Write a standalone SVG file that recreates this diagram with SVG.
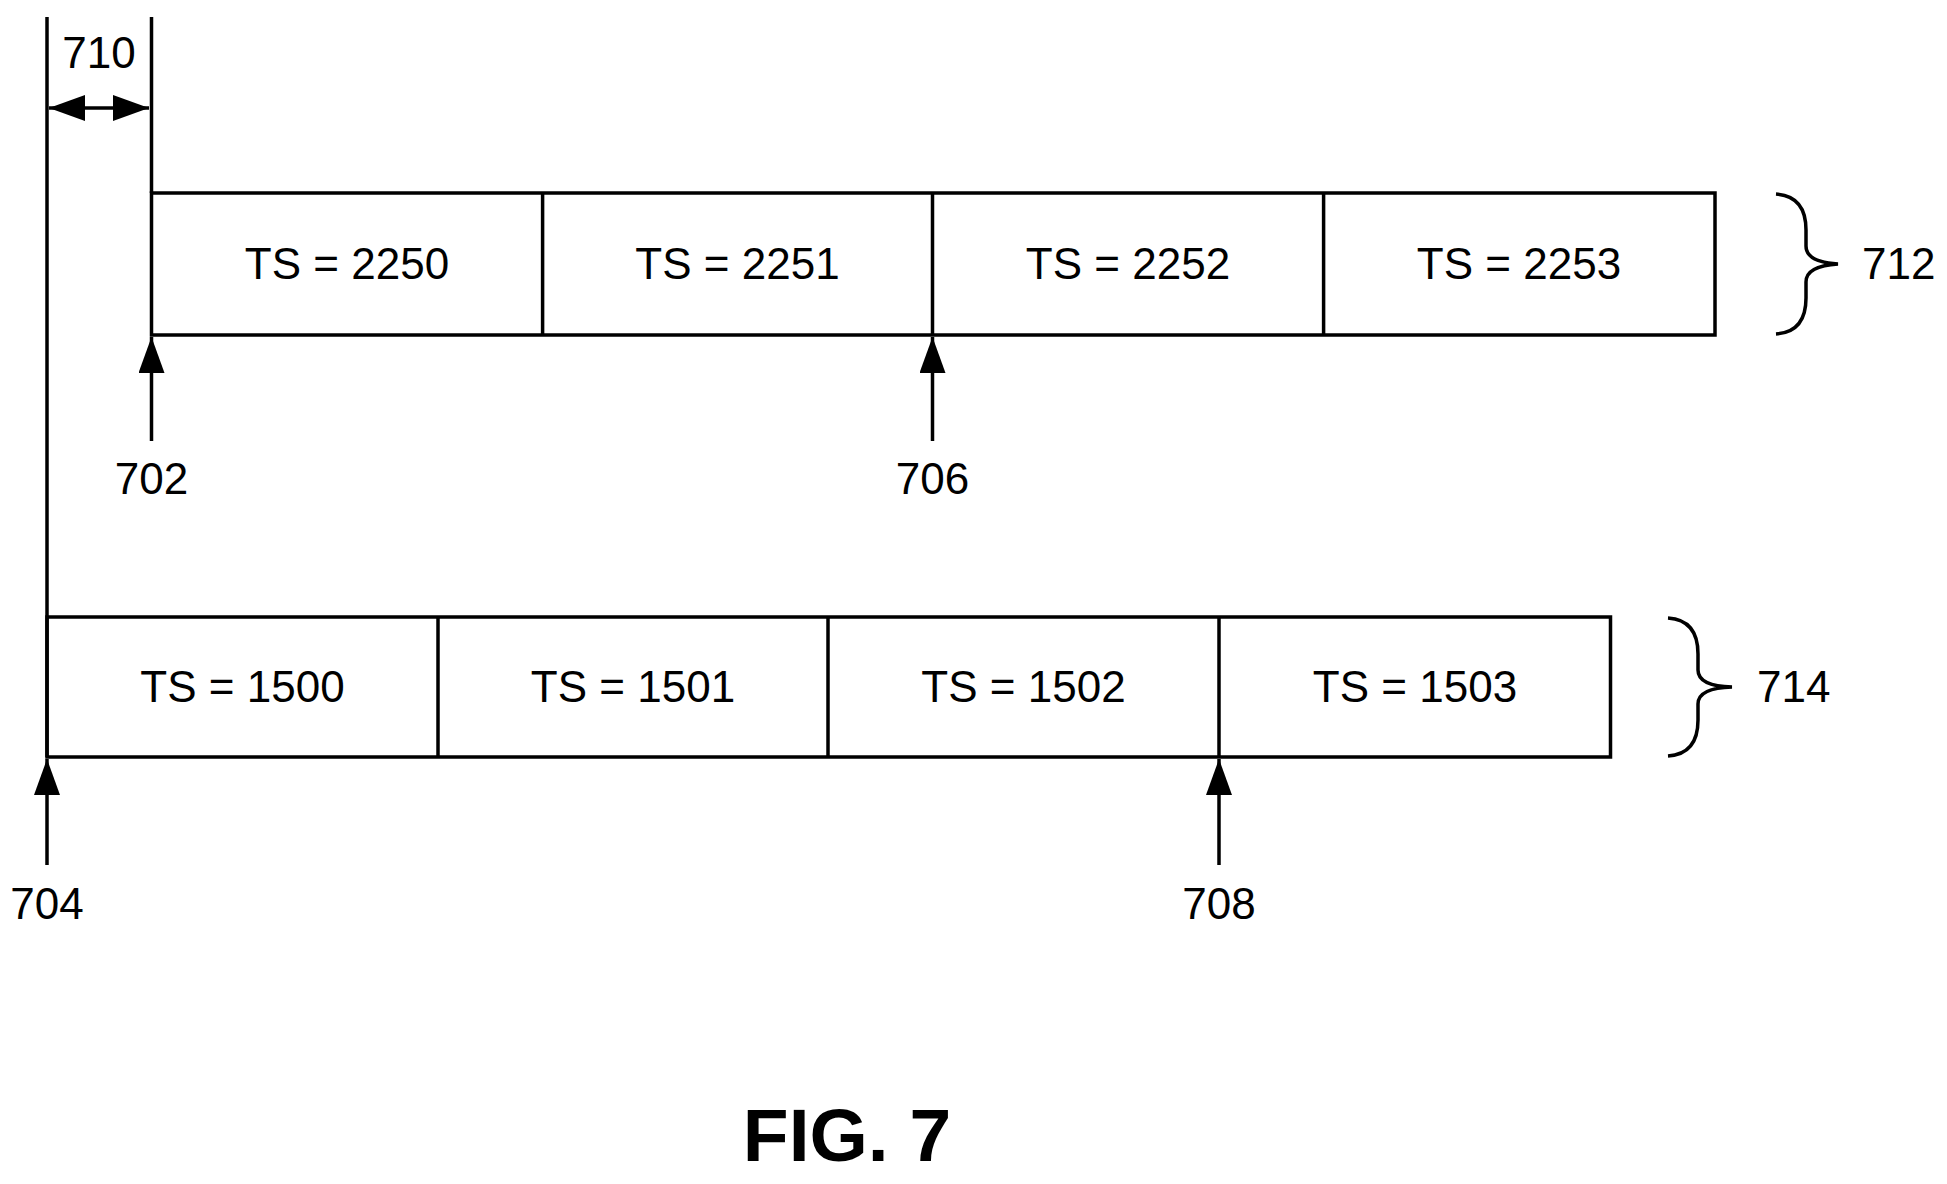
<svg xmlns="http://www.w3.org/2000/svg" width="1947" height="1184" viewBox="0 0 1947 1184">
<style>
.l{stroke:#000;stroke-width:3.5;fill:none}
.t{font-family:"Liberation Sans",Arial,sans-serif;font-size:44px;fill:#000}
.c{text-anchor:middle}
</style>
<defs>
<marker id="b" viewBox="0 0 36 26" refX="36" refY="13" markerWidth="36" markerHeight="26" markerUnits="userSpaceOnUse" orient="auto-start-reverse"><path d="M0,0L36,13L0,26z" fill="#000"/></marker>
</defs>
<rect width="1947" height="1184" fill="#fff"/>
<g id="connectors">
<line class="l" x1="47" y1="17" x2="47" y2="757"/>
<line class="l" x1="151.5" y1="17" x2="151.5" y2="193"/>
<line class="l" x1="49" y1="108" x2="149" y2="108" marker-start="url(#b)" marker-end="url(#b)"/>
<line class="l" x1="151.5" y1="441" x2="151.5" y2="337" marker-end="url(#b)"/>
<line class="l" x1="932.5" y1="441" x2="932.5" y2="337" marker-end="url(#b)"/>
<line class="l" x1="47" y1="865" x2="47" y2="759" marker-end="url(#b)"/>
<line class="l" x1="1219" y1="865" x2="1219" y2="759" marker-end="url(#b)"/>
</g>
<text class="t c" x="99" y="68">710</text>
<g id="row712">
<rect class="l" x="151.5" y="193" width="1563.5" height="142"/>
<line class="l" x1="542.6" y1="193" x2="542.6" y2="335"/>
<line class="l" x1="932.5" y1="193" x2="932.5" y2="335"/>
<line class="l" x1="1323.6" y1="193" x2="1323.6" y2="335"/>
<text class="t c" x="347" y="279">TS = 2250</text>
<text class="t c" x="737.5" y="279">TS = 2251</text>
<text class="t c" x="1128" y="279">TS = 2252</text>
<text class="t c" x="1519" y="279">TS = 2253</text>
<path class="l" d="M1776,194 Q1806,196 1806,230 L1806,246 Q1806,262 1838,264 Q1806,266 1806,282 L1806,298 Q1806,332 1776,334"/>
<text class="t" x="1862" y="279">712</text>
</g>
<g id="row714">
<rect class="l" x="47" y="617" width="1563.5" height="140"/>
<line class="l" x1="438" y1="617" x2="438" y2="757"/>
<line class="l" x1="828" y1="617" x2="828" y2="757"/>
<line class="l" x1="1219" y1="617" x2="1219" y2="757"/>
<text class="t c" x="242.5" y="702">TS = 1500</text>
<text class="t c" x="633" y="702">TS = 1501</text>
<text class="t c" x="1023.5" y="702">TS = 1502</text>
<text class="t c" x="1415" y="702">TS = 1503</text>
<path class="l" d="M1668,618 Q1698,620 1698,654 L1698,670 Q1698,686 1732,687 Q1698,688 1698,704 L1698,720 Q1698,754 1668,756"/>
<text class="t" x="1757" y="702">714</text>
</g>
<g id="labels">
<text class="t c" x="151.5" y="494">702</text>
<text class="t c" x="932.5" y="494">706</text>
<text class="t c" x="47" y="919">704</text>
<text class="t c" x="1219" y="919">708</text>
</g>
<text class="t c" x="847" y="1161" style="font-size:75px;font-weight:bold">FIG. 7</text>
</svg>
